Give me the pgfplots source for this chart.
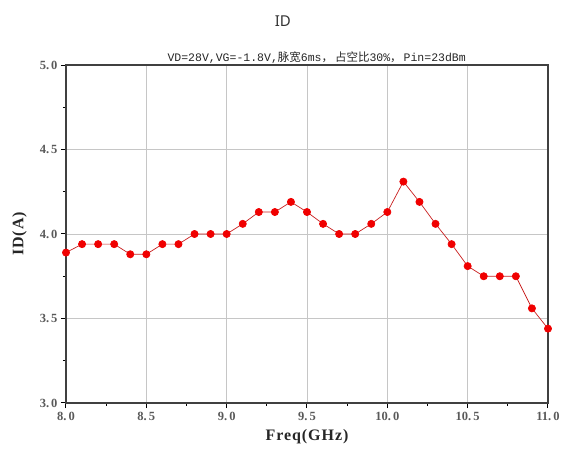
\documentclass[border=0pt]{standalone}
\usepackage{fontspec}
\usepackage{pgfplots}
\pgfplotsset{compat=1.18}
\setmainfont{Liberation Serif}
\setmonofont{Liberation Mono}
\newfontfamily\cjk{Noto Sans CJK SC}
\newfontfamily\titlefont{Noto Sans}
\newfontfamily\widefont[LetterSpace=6]{Liberation Serif}
\definecolor{linered}{RGB}{200,30,30}
\definecolor{markred}{RGB}{240,0,0}
\begin{document}
\begin{tikzpicture}
\begin{axis}[
  at={(0,0)}, anchor=south west,
  scale only axis, width=482pt, height=338pt,
  xmin=8, xmax=11, ymin=3, ymax=5,
  xtick={8,8.5,9,9.5,10,10.5,11},
  xticklabels={8.\,0,8.\,5,9.\,0,9.\,5,10.\,0,10.\,5,11.\,0},
  ytick={3,3.5,4,4.5,5},
  yticklabels={3.\,0,3.\,5,4.\,0,4.\,5,5.\,0},
  minor x tick num=1, minor y tick num=1,
  tick align=outside, tick pos=left,
  major tick length=5pt, minor tick length=3pt,
  every tick/.style={black, line width=1pt},
  grid=major,
  major grid style={gray!45, line width=0.6pt},
  axis line style={line width=1.4pt, black!75},
  tick label style={font=\fontsize{12.5}{12.5}\selectfont\bfseries, text=black!65},
  xticklabel style={yshift=-1pt},
  /pgf/number format/assume math mode=true,
  xlabel={\widefont\bfseries Freq(GHz)},
  ylabel={\widefont\bfseries ID(A)},
  label style={font=\fontsize{16}{16}\selectfont, text=black!85},
  xlabel style={yshift=-2pt},
  ylabel style={yshift=6pt},
  title={\titlefont ID},
  title style={at={(0.45,1.095)}, anchor=base, font=\fontsize{15}{15}\selectfont, text=black!80},
  clip=false,
]
\addplot[linered, line width=0.7pt, mark=*, mark size=3.6pt, mark options={draw=markred, fill=markred}]
coordinates {
(8.0,3.89) (8.1,3.94) (8.2,3.94) (8.3,3.94) (8.4,3.88) (8.5,3.88)
(8.6,3.94) (8.7,3.94) (8.8,4.00) (8.9,4.00) (9.0,4.00) (9.1,4.06)
(9.2,4.13) (9.3,4.13) (9.4,4.19) (9.5,4.13) (9.6,4.06) (9.7,4.00)
(9.8,4.00) (9.9,4.06) (10.0,4.13) (10.1,4.31) (10.2,4.19) (10.3,4.06)
(10.4,3.94) (10.5,3.81) (10.6,3.75) (10.7,3.75) (10.8,3.75) (10.9,3.56)
(11.0,3.44)
};
\node[anchor=base, font=\fontsize{11.5}{11.5}\selectfont\ttfamily, text=black!85, inner sep=0pt] at (rel axis cs:0.52,1.01) {VD=28V,VG=-1.8V,{\cjk 脉宽}6ms{\cjk ，}\,{\cjk 占空比}30\%{\cjk ，}\,Pin=23dBm};
\end{axis}
\path[use as bounding box] (-66pt,-50pt) rectangle (500pt,403pt);
\end{tikzpicture}
\end{document}
